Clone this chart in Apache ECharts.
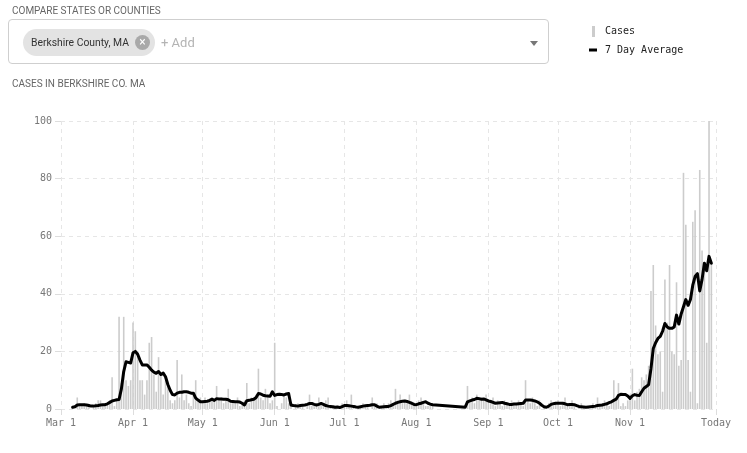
<!DOCTYPE html>
<html><head><meta charset="utf-8">
<script src="https://cdn.jsdelivr.net/npm/echarts@6/dist/echarts.min.js"></script>
<style>
body{margin:0;background:#fff;}
#wrap{position:relative;width:747px;height:453px;overflow:hidden;font-family:Roboto,"Noto Sans",sans-serif;}
#chart{position:absolute;left:0;top:0;width:747px;height:453px;}
.cap{position:absolute;left:12px;font-size:10px;line-height:10px;color:#666;white-space:nowrap;}
#box{position:absolute;left:8px;top:19px;width:541px;height:45px;box-sizing:border-box;border:1px solid #cfcfcf;border-radius:4px;background:#fff;}
#chip{position:absolute;left:14px;top:9px;width:132px;height:27px;border-radius:14px;background:#e3e3e3;}
#chipText{position:absolute;left:8px;top:0;line-height:27px;font-size:11px;color:#333;white-space:nowrap;transform:scaleX(0.94);transform-origin:left;}
#chipX{position:absolute;left:112px;top:6px;width:15px;height:15px;border-radius:50%;background:#a9a9a9;color:#fff;font-size:12px;line-height:15px;text-align:center;}
#add{position:absolute;left:152px;top:0;line-height:45px;height:45px;font-size:13px;color:#b3b3b3;white-space:nowrap;}
#arrow{position:absolute;left:521px;top:21px;width:0;height:0;border-left:4px solid transparent;border-right:4px solid transparent;border-top:5px solid #777;}
</style></head>
<body><div id="wrap">
<div id="chart"></div>
<div class="cap" style="top:6px;">COMPARE STATES OR COUNTIES</div>
<div id="box"><div id="chip"><span id="chipText">Berkshire County, MA</span><div id="chipX">×</div></div><div id="add">+ Add</div><div id="arrow"></div></div>
<div class="cap" style="top:79px;">CASES IN BERKSHIRE CO. MA</div>
</div>
<script>
// Days from Mar 1 (index 0) to Today (Dec 8, index 282)
const startDate = '2020-03-01';
const dayCount = 283;
const tickIndices = [0, 31, 61, 92, 122, 153, 184, 214, 245, 282];
const tickLabels = ['Mar 1', 'Apr 1', 'May 1', 'Jun 1', 'Jul 1', 'Aug 1', 'Sep 1', 'Oct 1', 'Nov 1', 'Today'];

const casesMar = [null,null,null,null,null,1,0,4,1,1,2,1,1,0,1,2,3,3,1,2,2,3,11,1,3,32,9,32,10,8,10];
const casesApr = [30,27,20,10,10,5,10,23,25,12,6,18,12,5,10,8,3,2,3,17,4,12,3,5,2,1,5,10,3,4];
const casesMay = [3,4,2,3,4,3,8,3,4,2,3,7,2,3,2,4,1,2,3,9,2,4,3,5,14,4,3,7,5,2,3];
const casesJun = [23,1,0,2,5,4,2,1,0,1,2,1,1,0,2,5,1,1,2,4,1,2,3,4,1,1,1,0,1,2];
const casesJul = [1,3,1,5,1,0,1,1,2,1,1,0,4,1,2,1,1,2,1,2,3,2,7,3,5,2,3,2,5,2,2];
const casesAug = [1,3,4,2,1,1,2,1,null,null,null,null,null,null,null,null,null,null,null,null,null,null,8,3,4,2,5,4,4,3,5];
const casesSep = [3,2,4,1,3,2,1,3,2,1,3,2,2,3,2,1,10,3,2,4,2,1,3,0,1,0,2,3,1,2];
const casesOct = [3,1,2,4,1,2,3,1,0,1,2,1,0,1,0,2,1,4,1,2,3,2,1,3,10,4,9,1,2,1,3];
const casesNov = [5,14,3,6,7,11,10,12,15,41,50,29,19,20,6,45,30,50,20,19,44,15,17,82,64,17,6,65,69,2];
const casesDec = [83,55,50,23,100,50,null,null];

const avgMar = [null,null,null,null,null,0.6,0.8,1.4,1.5,1.5,1.5,1.4,1.2,1.0,1.0,1.1,1.2,1.4,1.5,1.5,1.8,2.3,2.8,3.0,3.2,3.3,7,13,16.4,16.2,16];
const avgApr = [19.5,20,19,17,15.3,15.3,15.3,14.5,13.5,12.8,12.4,13,12,12.5,11.2,8.5,6.5,5,4.9,5.5,5.8,5.8,6,6,5.8,5.5,5.5,3.8,3.1,2.5];
const avgMay = [2.5,2.6,2.7,3.0,3.4,3.0,3.6,3.5,3.5,3.4,3.4,3.2,2.7,2.6,2.5,2.5,2.4,2.0,1.4,2.9,3.0,3.2,3.4,4.0,5.4,5.2,4.8,4.6,4.5,4.4,6.0];
const avgJun = [4.7,5.0,5.1,5.0,4.9,5.2,5.4,1.4,1.2,1.1,1.0,1.2,1.3,1.4,1.6,1.9,1.9,1.6,1.4,1.6,1.9,1.6,1.2,1.0,0.9,0.8,0.6,0.7,0.5,0.8];
const avgJul = [1.2,1.2,1.1,1.0,0.9,0.7,0.6,0.8,1.0,1.1,1.2,1.3,1.5,1.5,1.0,0.6,0.7,0.8,0.9,0.9,1.2,1.6,2.0,2.3,2.5,2.7,2.8,2.6,2.3,2.0,1.6];
const avgAug = [1.5,1.8,2.0,2.3,2.5,2.0,1.7,1.5,null,null,null,null,null,null,null,null,null,null,null,null,null,0.6,2.5,2.8,3.1,3.3,3.7,3.6,3.4,3.5,3.2];
const avgSep = [2.8,2.6,2.3,2.0,2.1,2.2,2.3,2.0,1.8,1.6,1.6,1.7,1.7,1.8,1.9,2.0,3.1,3.1,3.1,3.0,2.8,2.5,2.0,1.3,0.8,0.6,1.0,1.6,1.8,2.0];
const avgOct = [2.0,2.0,2.0,1.8,1.5,1.6,1.6,1.5,1.2,0.9,0.8,0.7,0.6,0.7,0.8,0.9,1.0,1.2,1.3,1.4,1.6,1.8,2.2,2.5,3.0,3.4,4.7,5.1,5.0,5.0,4.5];
const avgNov = [3.7,4.6,5.0,4.8,4.7,6.0,7.2,7.8,8.5,14,21,23,24.5,25.2,27,29.7,28.5,28,28,28.5,32.6,29.5,33,35.5,38,36,38,43,46,47];
const avgDec = [41,45,50.6,48,53,50.6,null,null];

const yTicks = [0, 20, 40, 60, 80, 100];

const cases = [].concat(casesMar, casesApr, casesMay, casesJun, casesJul, casesAug, casesSep, casesOct, casesNov, casesDec);
const avg = [].concat(avgMar, avgApr, avgMay, avgJun, avgJul, avgAug, avgSep, avgOct, avgNov, avgDec);

const categories = [];
const d0 = new Date(startDate + 'T00:00:00Z');
for (let i = 0; i < dayCount; i++) {
  const d = new Date(d0.getTime() + i * 86400000);
  categories.push(d.toISOString().slice(0, 10));
}
const isTick = (i) => tickIndices.indexOf(i) >= 0;
const mono = '"DejaVu Sans Mono", "Liberation Mono", monospace';

const chart = echarts.init(document.getElementById('chart'), null, {renderer: 'canvas'});
chart.setOption({
  animation: false,
  backgroundColor: 'transparent',
  legend: [
    {data: ['Cases'], left: 587, top: 21, itemWidth: 3, itemHeight: 11, icon: 'rect',
     textStyle: {fontFamily: mono, fontSize: 10, color: '#222', padding: [0, 0, 0, 5]}},
    {data: ['7 Day Average'], left: 584, top: 40, itemWidth: 8, itemHeight: 3, icon: 'rect',
     textStyle: {fontFamily: mono, fontSize: 10, color: '#222', padding: [0, 0, 0, 3]}}
  ],
  grid: {left: 61, right: 31, top: 121, bottom: 44, containLabel: false},
  xAxis: {
    type: 'category',
    data: categories,
    boundaryGap: false,
    axisLine: {show: false},
    axisTick: {show: true, interval: (i) => isTick(i), length: 6, lineStyle: {color: '#ddd'}},
    axisLabel: {interval: (i) => isTick(i), formatter: (v, i) => tickLabels[tickIndices.indexOf(i)] || '',
      fontFamily: mono, fontSize: 10, color: '#777', margin: 9},
    splitLine: {show: true, interval: (i) => isTick(i), lineStyle: {color: '#e6e6e6', type: [4, 4], width: 1}}
  },
  yAxis: {
    type: 'value', min: yTicks[0], max: yTicks[yTicks.length - 1], interval: 20,
    axisLine: {show: false},
    axisTick: {show: true, length: 6, lineStyle: {color: '#ddd'}},
    axisLabel: {fontFamily: mono, fontSize: 10, color: '#777', margin: 9},
    splitLine: {lineStyle: {color: '#e6e6e6', type: [4, 4], width: 1}}
  },
  series: [
    {name: 'Cases', type: 'bar', data: cases, barWidth: 1.6, itemStyle: {color: '#cccccc'}, z: 1},
    {name: '7 Day Average', type: 'line', data: avg, connectNulls: true, showSymbol: false, symbol: 'none',
     lineStyle: {color: '#000', width: 3, join: 'round', cap: 'round'}, itemStyle: {color: '#000'}, z: 3}
  ]
});
</script>
</body></html>
